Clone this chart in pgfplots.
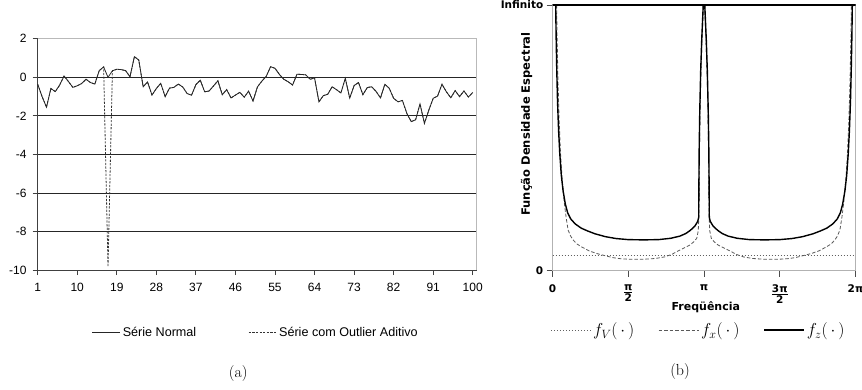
\RequirePackage{fix-cm}
\documentclass[border=0pt]{standalone}
\usepackage{fontspec}
\usepackage{amsmath}
\usepackage{pgfplots}
\pgfplotsset{compat=1.18}
\newfontfamily\lib{Liberation Sans}
\newfontfamily\dvs{DejaVu Sans}
\newcommand\tb{\dvs\bfseries\fontsize{10.5}{12}\selectfont}
\newcommand\fr[2]{$\genfrac{}{}{1.1pt}{}{\mbox{\tb #1}}{\mbox{\tb #2}}$}

\pgfplotstableread{
i v
1 -0.36
2 -1.00
3 -1.55
4 -0.58
5 -0.74
6 -0.40
7 0.07
8 -0.22
9 -0.52
10 -0.44
11 -0.32
12 -0.10
13 -0.27
14 -0.35
15 0.35
16 0.54
17 0.00
18 0.34
19 0.42
20 0.40
21 0.35
22 0.03
23 1.07
24 0.90
25 -0.49
26 -0.24
27 -0.92
28 -0.58
29 -0.31
30 -1.00
31 -0.56
32 -0.52
33 -0.35
34 -0.50
35 -0.84
36 -0.93
37 -0.38
38 -0.15
39 -0.75
40 -0.71
41 -0.45
42 -0.18
43 -0.90
44 -0.64
45 -1.07
46 -0.92
47 -0.78
48 -1.03
49 -0.72
50 -1.23
51 -0.50
52 -0.20
53 0.05
54 0.55
55 0.47
56 0.15
57 -0.10
58 -0.23
59 -0.40
60 0.16
61 0.15
62 0.13
63 -0.10
64 -0.03
65 -1.27
66 -0.95
67 -0.88
68 -0.49
69 -0.64
70 -0.81
71 -0.05
72 -1.08
73 -0.43
74 -0.27
75 -0.90
76 -0.53
77 -0.49
78 -0.73
79 -1.07
80 -0.36
81 -0.57
82 -1.09
83 -1.27
84 -1.20
85 -1.87
86 -2.30
87 -2.20
88 -1.38
89 -2.39
90 -1.70
91 -1.09
92 -0.97
93 -0.36
94 -0.75
95 -1.06
96 -0.69
97 -1.00
98 -0.71
99 -1.02
100 -0.79
}\normal

\pgfplotstableread{
i v
1 -0.36
2 -1.00
3 -1.55
4 -0.58
5 -0.74
6 -0.40
7 0.07
8 -0.22
9 -0.52
10 -0.44
11 -0.32
12 -0.10
13 -0.27
14 -0.35
15 0.35
16 0.54
17 -9.83
18 0.34
19 0.42
20 0.40
21 0.35
22 0.03
23 1.07
24 0.90
25 -0.49
26 -0.24
27 -0.92
28 -0.58
29 -0.31
30 -1.00
31 -0.56
32 -0.52
33 -0.35
34 -0.50
35 -0.84
36 -0.93
37 -0.38
38 -0.15
39 -0.75
40 -0.71
41 -0.45
42 -0.18
43 -0.90
44 -0.64
45 -1.07
46 -0.92
47 -0.78
48 -1.03
49 -0.72
50 -1.23
51 -0.50
52 -0.20
53 0.05
54 0.55
55 0.47
56 0.15
57 -0.10
58 -0.23
59 -0.40
60 0.16
61 0.15
62 0.13
63 -0.10
64 -0.03
65 -1.27
66 -0.95
67 -0.88
68 -0.49
69 -0.64
70 -0.81
71 -0.05
72 -1.08
73 -0.43
74 -0.27
75 -0.90
76 -0.53
77 -0.49
78 -0.73
79 -1.07
80 -0.36
81 -0.57
82 -1.09
83 -1.27
84 -1.20
85 -1.87
86 -2.30
87 -2.20
88 -1.38
89 -2.39
90 -1.70
91 -1.09
92 -0.97
93 -0.36
94 -0.75
95 -1.06
96 -0.69
97 -1.00
98 -0.71
99 -1.02
100 -0.79
}\outlier

\begin{document}
\begin{tikzpicture}[x=1pt,y=1pt]
\useasboundingbox (0pt,0pt) rectangle (862pt,389pt);

% ---------------- panel (a)
\begin{axis}[
  at={(37.7pt,119pt)}, anchor=south west,
  scale only axis, width=439pt, height=231.2pt,
  xmin=1, xmax=100.9, ymin=-10, ymax=2,
  axis lines=left, axis line style={-, black!75, line width=0.9pt},
  xtick={1,10,19,28,37,46,55,64,73,82,91,100},
  xticklabels={1,10,19,28,37,46,55,64,73,82,91,100},
  ytick={-10,-8,-6,-4,-2,0,2},
  yticklabels={-10,-8,-6,-4,-2,0,2},
  tick align=outside, major tick length=5pt,
  tick style={black!75, line width=0.8pt},
  ymajorgrids, grid style={black!85, line width=0.8pt},
  xticklabel style={font=\lib\fontsize{12}{14}\selectfont, inner sep=0pt, anchor=north, yshift=-8pt},
  yticklabel style={font=\lib\fontsize{12}{14}\selectfont, inner sep=0pt, anchor=east, xshift=-6pt},
  legend style={draw=none, fill=none, at={(0.497,-0.2695)}, anchor=center,
    font=\lib\fontsize{12.6}{15}\selectfont,
    /tikz/every even column/.append style={column sep=50pt}},
  legend columns=2, reverse legend,
  legend image code/.code={\draw[#1] (0pt,0pt) -- (28pt,0pt);},
  clip=false,
]
\addplot[black!80, line width=0.8pt, dash pattern=on 2.2pt off 1.4pt] table[x=i,y=v] {\outlier};
\addlegendentry{Série com Outlier Aditivo}
\addplot[black!85, line width=0.8pt] table[x=i,y=v] {\normal};
\addlegendentry{Série Normal}
\draw[gray!55, line width=1pt] (rel axis cs:0,1) -- (rel axis cs:1,1) -- (rel axis cs:1,0);
\end{axis}

% ---------------- panel (b)
\begin{axis}[
  at={(552.5pt,118.3pt)}, anchor=south west,
  scale only axis, width=303pt, height=265.7pt,
  xmin=0, xmax=2, ymin=0, ymax=1,
  axis line style={gray!60, line width=1.2pt},
  xtick={0,0.5,1,1.5,2},
  xticklabels={{\tb 0},{\fr{π}{2}},{\tb π},{\fr{3π}{2}},{\tb 2π}},
  ytick={0,1}, yticklabels={{\tb 0},{\tb Infinito}},
  tick align=outside, major tick length=6pt,
  xtick pos=bottom, ytick pos=left,
  tick style={gray!60!black, line width=0.9pt},
  xticklabel style={inner sep=0pt, anchor=north, yshift=-8pt},
  yticklabel style={inner sep=0pt, anchor=east, xshift=-3pt},
  xlabel={Freqüência},
  xlabel style={font=\dvs\bfseries\fontsize{11}{13}\selectfont, at={(axis description cs:0.506,-0.1375)}, anchor=center},
  ylabel={Função Densidade Espectral},
  ylabel style={font=\dvs\bfseries\fontsize{11.5}{13}\selectfont, at={(axis description cs:-0.0851,0.552)}, anchor=center},
  legend style={draw=none, fill=none, at={(0.4815,-0.2232)}, anchor=center,
    font=\fontsize{17.28}{19}\selectfont,
    /tikz/every even column/.append style={column sep=22pt}},
  legend columns=3,
  legend image code/.code={\draw[#1] (0pt,0pt) -- (40pt,0pt);},
]
\addplot[gray!75!black, line width=0.8pt, dash pattern=on 1pt off 2pt] coordinates {(0,0.059) (2,0.059)};
\addlegendentry{$f_V(\,\cdot\,)$}
\addplot[gray!70!black, line width=0.8pt, dash pattern=on 3.5pt off 2pt] coordinates {
(0.027,1.000) (0.031,0.860) (0.036,0.720) (0.043,0.580) (0.052,0.450) (0.063,0.350)
(0.077,0.260) (0.090,0.200) (0.103,0.153) (0.120,0.130) (0.136,0.116) (0.160,0.101)
(0.191,0.090) (0.240,0.075) (0.290,0.065) (0.350,0.056) (0.400,0.049) (0.450,0.045)
(0.510,0.043) (0.600,0.043) (0.680,0.046) (0.740,0.052) (0.790,0.062) (0.820,0.072)
(0.860,0.083) (0.908,0.097) (0.935,0.110) (0.952,0.122) (0.962,0.150) (0.967,0.216)
(0.968,0.300) (0.970,0.450) (0.974,0.600) (0.980,0.750) (0.987,0.870) (0.996,1.000)
(1.004,1.000) (1.013,0.870) (1.020,0.750) (1.026,0.600) (1.030,0.450) (1.032,0.300)
(1.033,0.216) (1.038,0.150) (1.048,0.122) (1.065,0.110) (1.092,0.097) (1.140,0.083)
(1.180,0.072) (1.210,0.062) (1.260,0.052) (1.320,0.046) (1.400,0.043) (1.490,0.043)
(1.550,0.045) (1.600,0.049) (1.650,0.056) (1.710,0.065) (1.760,0.075) (1.809,0.090)
(1.840,0.101) (1.864,0.116) (1.880,0.130) (1.897,0.153) (1.910,0.200) (1.923,0.260)
(1.937,0.350) (1.948,0.450) (1.957,0.580) (1.964,0.720) (1.969,0.860) (1.973,1.000)
};
\addlegendentry{$f_x(\,\cdot\,)$}
\addplot[black, line width=1.4pt] coordinates {
(0.021,1.000) (0.024,0.880) (0.028,0.760) (0.033,0.640) (0.040,0.530) (0.048,0.440)
(0.058,0.360) (0.070,0.300) (0.085,0.250) (0.100,0.218) (0.120,0.195) (0.150,0.176)
(0.190,0.160) (0.230,0.150) (0.280,0.139) (0.350,0.128) (0.420,0.121) (0.500,0.117)
(0.600,0.116) (0.700,0.117) (0.780,0.122) (0.840,0.130) (0.880,0.140) (0.910,0.152)
(0.940,0.168) (0.958,0.185) (0.965,0.200) (0.966,0.300) (0.968,0.450) (0.972,0.600)
(0.978,0.750) (0.985,0.870) (0.995,1.000)
(1.005,1.000) (1.015,0.870) (1.022,0.750) (1.028,0.600) (1.032,0.450) (1.034,0.300)
(1.035,0.200) (1.042,0.185) (1.060,0.168) (1.090,0.152) (1.120,0.140) (1.160,0.130)
(1.220,0.122) (1.300,0.117) (1.400,0.116) (1.500,0.117) (1.580,0.121) (1.650,0.128)
(1.720,0.139) (1.770,0.150) (1.810,0.160) (1.850,0.176) (1.880,0.195) (1.900,0.218)
(1.915,0.250) (1.930,0.300) (1.942,0.360) (1.952,0.440) (1.960,0.530) (1.967,0.640)
(1.972,0.760) (1.976,0.880) (1.979,1.000)
};
\addlegendentry{$f_z(\,\cdot\,)$}
\draw[black, line width=1.2pt] ([xshift=-6pt]rel axis cs:0,1) -- (rel axis cs:1,1);
\end{axis}

\node[font=\fontsize{16}{18}\selectfont] at (238.3pt,15.7pt) {(a)};
\node[font=\fontsize{16}{18}\selectfont] at (680pt,17.3pt) {(b)};
\end{tikzpicture}
\end{document}
